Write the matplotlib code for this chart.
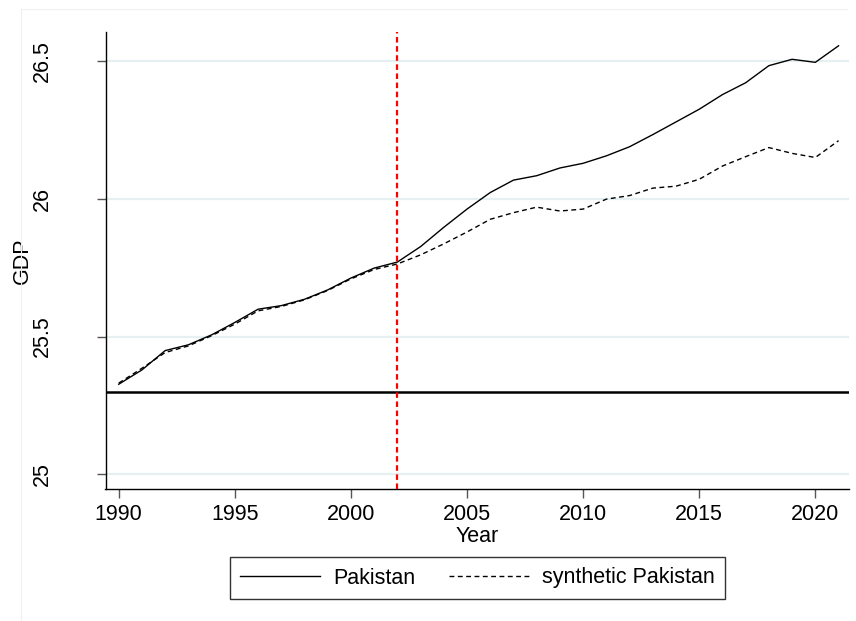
import matplotlib
matplotlib.use("Agg")
import matplotlib.pyplot as plt
from matplotlib.lines import Line2D

plt.rcParams['font.family'] = ['Liberation Sans', 'DejaVu Sans']

years = list(range(1990, 2022))
pakistan = [25.327, 25.379, 25.449, 25.470, 25.506, 25.551, 25.599, 25.612, 25.635, 25.669,
            25.712, 25.748, 25.770, 25.826, 25.896, 25.962, 26.022, 26.067, 26.083, 26.111,
            26.128, 26.155, 26.188, 26.232, 26.278, 26.324, 26.377, 26.420, 26.482, 26.505,
            26.494, 26.554]
synthetic = [25.331, 25.385, 25.442, 25.466, 25.503, 25.545, 25.593, 25.609, 25.633, 25.667,
             25.709, 25.743, 25.763, 25.796, 25.836, 25.879, 25.925, 25.949, 25.969, 25.955,
             25.962, 25.998, 26.011, 26.038, 26.045, 26.070, 26.118, 26.152, 26.185, 26.164,
             26.149, 26.210]
xticks = [1990, 1995, 2000, 2005, 2010, 2015, 2020]
yticks = [25, 25.5, 26, 26.5]
ytick_labels = ["25", "25.5", "26", "26.5"]
treat_year = 2002
ref_level = 25.3

FS = 15.5
W, H = 856, 621
fig = plt.figure(figsize=(W / 100, H / 100), dpi=100)
fig.patch.set_facecolor('white')

# faint outer region outline
fig.add_artist(Line2D([21 / W, 21 / W], [0, 1 - 9 / H], color='#eef1f3', lw=0.8))
fig.add_artist(Line2D([21 / W, 847 / W], [1 - 9 / H, 1 - 9 / H], color='#eef1f3', lw=0.8))

left, right, top, bottom = 105.5, 849, 32, 488.5
ax = fig.add_axes([left / W, 1 - bottom / H, (right - left) / W, (bottom - top) / H])
ax.set_xlim(1989.43, 2021.45)
ax.set_ylim(24.949, 26.604)

for y in yticks:
    ax.axhline(y, color='#e6eff1', lw=1.6, zorder=0)

ax.plot(years, pakistan, color='black', lw=1.0, label='Pakistan', zorder=3)
ax.plot(years, synthetic, color='black', lw=1.0, dashes=(3.5, 2.5), label='synthetic Pakistan', zorder=3)
ax.axhline(ref_level, color='black', lw=1.8, zorder=2)
ax.axvline(treat_year, color='#ff0000', lw=1.6, dashes=(2.5, 1.6), zorder=4)

for s in ['top', 'right']:
    ax.spines[s].set_visible(False)
for s in ['left', 'bottom']:
    ax.spines[s].set_color('black')
    ax.spines[s].set_linewidth(1.0)

ax.set_xticks(xticks)
ax.set_xticklabels([str(x) for x in xticks], fontsize=FS)
ax.set_yticks(yticks)
ax.set_yticklabels(ytick_labels, fontsize=FS, rotation=90, va='center')
ax.tick_params(axis='both', length=6.2, width=1.0, color='#555555')
ax.tick_params(axis='x', pad=5)
ax.tick_params(axis='y', pad=32)

ax.set_xlabel('Year', fontsize=FS, labelpad=1)
ax.set_ylabel('GDP', fontsize=FS, labelpad=-1)

handles, labels = ax.get_legend_handles_labels()
leg = fig.legend(handles, labels, ncol=2, loc='center',
                 bbox_to_anchor=(((227 + 728) / 2) / W, 1 - 578 / H),
                 fontsize=FS, frameon=True, fancybox=False, edgecolor='black',
                 handlelength=3.7, columnspacing=1.6, handletextpad=0.6,
                 borderpad=0.5, borderaxespad=0)
leg.get_frame().set_linewidth(1.0)

fig.savefig('out.png', dpi=100, facecolor='white')
